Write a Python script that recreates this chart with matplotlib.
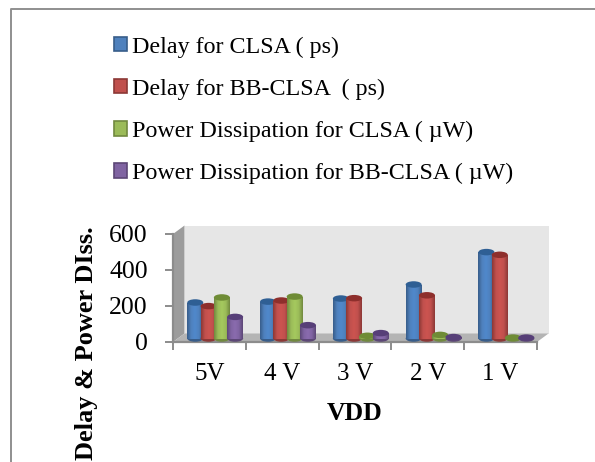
import numpy as np
import matplotlib
matplotlib.use("Agg")
import matplotlib.pyplot as plt
from matplotlib.patches import Polygon, Ellipse, Patch
from matplotlib.colors import LinearSegmentedColormap
from matplotlib.lines import Line2D

categories = ["5V", "4 V", "3 V", "2 V", "1 V"]
series_names = ["Delay for CLSA ( ps)", "Delay for BB-CLSA  ( ps)",
                "Power Dissipation for CLSA ( µW)", "Power Dissipation for BB-CLSA ( µW)"]
delay_clsa = [200, 205, 222, 300, 480]
delay_bb = [180, 211, 224, 240, 465]
power_clsa = [228, 233, 15, 20, 5]
power_bb = [120, 74, 30, 8, 5]
y_ticks = [0, 200, 400, 600]
series = [delay_clsa, delay_bb, power_clsa, power_bb]
fills = ["#4F81BD", "#C0504D", "#9BBB59", "#8064A2"]
tops = ["#2F5F94", "#8E2F2C", "#6F8C36", "#573F78"]
edges = ["#385D8A", "#8C3836", "#71893F", "#5C4776"]
lights = ["#5089CC", "#CC5450", "#A5C95E", "#8A6BAE"]

W, H = 595, 462
plt.rcParams["font.family"] = ["Liberation Serif", "DejaVu Serif"]
fig = plt.figure(figsize=(W / 100, H / 100), dpi=100, facecolor="white")
L, R, B0, T0 = 173, 537, 342, 234
ax = fig.add_axes([L / W, 1 - B0 / H, (R - L) / W, (B0 - T0) / H])
ax.set_xlim(0, 5)
ax.set_ylim(0, 600)
ax.patch.set_visible(False)
for s in ["top", "right"]:
    ax.spines[s].set_visible(False)
for s in ["left", "bottom"]:
    ax.spines[s].set_color("#8c8c8c")
    ax.spines[s].set_linewidth(1.6)

px_x = 5 / (R - L)
px_y = 600 / (B0 - T0)
dx, dy = 11.5 * px_x, 8.5 * px_y

# walls and floor
ax.add_patch(Polygon([(dx, dy), (5 + dx, dy), (5 + dx, 600 + dy), (dx, 600 + dy)],
                     fc="#E6E6E6", ec="none", zorder=1, clip_on=False))
ax.add_patch(Polygon([(0, 0), (dx, dy), (dx, 600 + dy), (0, 600)],
                     fc="#9C9C9C", ec="none", zorder=1, clip_on=False))
ax.add_patch(Polygon([(0, 0), (5, 0), (5 + dx, dy), (dx, dy)],
                     fc="#B4B4B4", ec="none", zorder=1, clip_on=False))

# cylinders
base = 3.5 * px_y
bw = 16 * px_x
step = 13.3 * px_x
eh = 6.5 * px_y
centre_shift = 5.8 * px_x
for j, vals in enumerate(series):
    cmap = LinearSegmentedColormap.from_list("c", [edges[j], fills[j], lights[j], fills[j], edges[j]])
    grad = np.linspace(0, 1, 64).reshape(1, -1)
    for i, v in enumerate(vals):
        x = i + 0.5 + centre_shift + (j - 1.5) * step
        zo = 3 + j * 0.1 + i
        bars = ax.bar(x, v, bw, bottom=base, color=fills[j], linewidth=0, zorder=zo, clip_on=False)
        rect = bars[0]
        im = ax.imshow(grad, extent=(x - bw / 2, x + bw / 2, base, base + v), aspect="auto",
                       cmap=cmap, zorder=zo + 0.01, clip_on=True)
        im.set_clip_path(rect)
        ax.add_patch(Ellipse((x, base), bw, eh, fc=edges[j], ec="none", zorder=zo - 0.01, clip_on=False))
        ax.add_patch(Ellipse((x, base + v), bw, eh, fc=tops[j], ec="none", zorder=zo + 0.02, clip_on=False))
ax.set_xlim(0, 5)
ax.set_ylim(0, 600)

# ticks
ax.set_yticks(y_ticks)
ax.set_xticks(np.arange(0, 6))
ax.set_xticklabels([])
ax.set_xticks(np.arange(5) + 0.5, minor=True)
ax.set_xticklabels(categories, minor=True, fontsize=18)
ax.tick_params(axis="x", which="minor", length=0, pad=15)
ax.tick_params(axis="x", which="major", length=6, width=1.4, color="#8c8c8c")
ax.tick_params(axis="y", length=6, width=1.4, color="#8c8c8c", labelsize=18.5, pad=12)

fig.text(355 / W, 1 - 413 / H, "VDD", fontsize=18.5, fontweight="bold", ha="center", va="center")
fig.text(86.5 / W, 1 - 343 / H, "Delay & Power DIss.", fontsize=19, fontweight="bold",
         rotation=90, ha="center", va="center")

# outer frame
fig.add_artist(Line2D([10.5 / W, 10.5 / W, 1], [0, 1 - 9 / H, 1 - 9 / H], color="#8f8f8f", lw=1.4))

handles = [Patch(fc=fills[k], ec=edges[k], lw=1.2) for k in range(4)]
fig.legend(handles, series_names, loc="upper left", bbox_to_anchor=(114 / W, 1 - 36.5 / H),
           frameon=False, fontsize=17.3, labelspacing=0.87, handlelength=0.54, handleheight=0.54,
           handletextpad=0.2, borderpad=0, borderaxespad=0)
fig.savefig("out.png", dpi=100)
